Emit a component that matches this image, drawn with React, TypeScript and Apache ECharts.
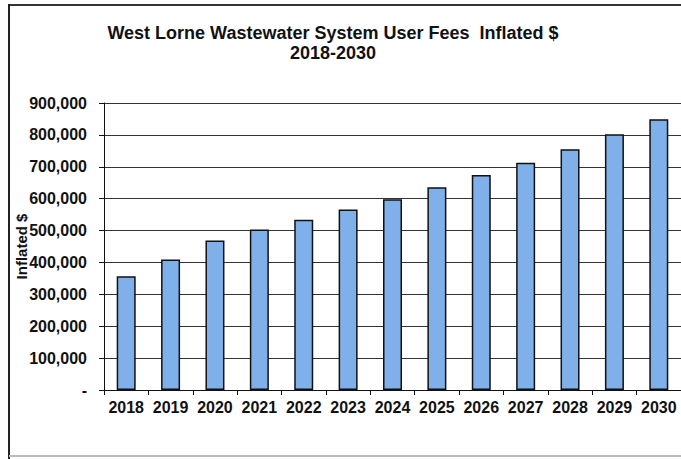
import React, { useEffect, useRef } from "react";
import * as echarts from "echarts";

const years = ["2018","2019","2020","2021","2022","2023","2024","2025","2026","2027","2028","2029","2030"];
const fees = [357000, 409000, 469000, 503000, 534000, 566000, 598000, 636000, 674000, 713000, 755000, 802000, 849000];
const titleLine1 = "West Lorne Wastewater System User Fees  Inflated $";
const titleLine2 = "2018-2030";
const yAxisName = "Inflated $";

const fmt = (v: number) => (v === 0 ? "-" : v.toLocaleString("en-US"));

export default function App() {
  const ref = useRef<HTMLDivElement>(null);
  useEffect(() => {
    if (!ref.current) return;
    const chart = echarts.init(ref.current, null, { renderer: "svg" });
    const font = "Liberation Sans, Arial, sans-serif";
    chart.setOption({
      animation: false,
      backgroundColor: "#ffffff",
      textStyle: { fontFamily: font },
      title: {
        text: titleLine1 + "\n" + titleLine2,
        left: 328,
        textAlign: "center",
        top: 18,
        textStyle: { fontFamily: font, fontSize: 18, fontWeight: "bold", color: "#111", lineHeight: 20 },
      },
      graphic: [
        { type: "line", shape: { x1: 9, y1: 5, x2: 681, y2: 5 }, style: { stroke: "#333", lineWidth: 2 } },
        { type: "line", shape: { x1: 9, y1: 4, x2: 9, y2: 459 }, style: { stroke: "#222", lineWidth: 2 } },
        { type: "line", shape: { x1: 9, y1: 456, x2: 681, y2: 456 }, style: { stroke: "#bbb", lineWidth: 2 } },
      ],
      grid: { left: 104, top: 103, right: -8, bottom: 69, containLabel: false },
      xAxis: {
        type: "category",
        data: years,
        axisLine: { lineStyle: { color: "#111", width: 1 } },
        axisTick: { show: true, length: 5, lineStyle: { color: "#111" } },
        axisLabel: { color: "#111", fontSize: 16, fontWeight: "bold", fontFamily: font, margin: 9, interval: 0 },
      },
      yAxis: {
        type: "value",
        min: 0,
        max: 900000,
        interval: 100000,
        name: yAxisName,
        nameLocation: "middle",
        nameGap: 75,
        nameMoveOverlap: false,
        nameTextStyle: { color: "#111", fontSize: 15, fontWeight: "bold", fontFamily: font },
        axisLine: { show: true, lineStyle: { color: "#111", width: 1 } },
        axisTick: { show: true, length: 5, lineStyle: { color: "#111" } },
        axisLabel: { color: "#111", fontSize: 16, fontWeight: "bold", fontFamily: font, margin: 17, formatter: fmt },
        splitLine: { show: true, lineStyle: { color: "#333", width: 1 } },
      },
      series: [
        {
          type: "bar",
          data: fees,
          barWidth: 19,
          itemStyle: { color: "#80b0ea", borderColor: "#111", borderWidth: 1.5 },
        },
      ],
    });
    return () => chart.dispose();
  }, []);
  return (
    <div
      ref={ref}
      style={{ position: "fixed", left: 0, top: 0, width: 681, height: 459 }}
    />
  );
}
